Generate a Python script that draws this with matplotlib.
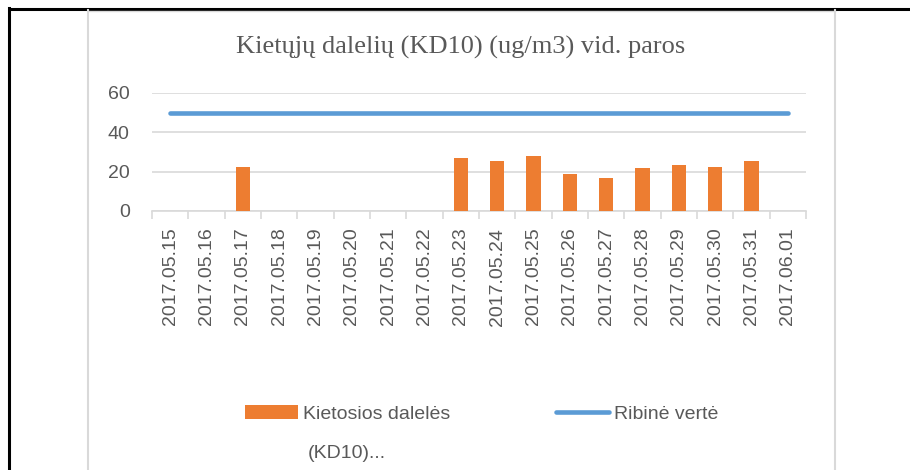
import numpy as np
import matplotlib
matplotlib.use("Agg")
import matplotlib.pyplot as plt
from matplotlib.lines import Line2D
from matplotlib.patches import Patch

# data
dates = ["2017.05.15", "2017.05.16", "2017.05.17", "2017.05.18", "2017.05.19",
         "2017.05.20", "2017.05.21", "2017.05.22", "2017.05.23", "2017.05.24",
         "2017.05.25", "2017.05.26", "2017.05.27", "2017.05.28", "2017.05.29",
         "2017.05.30", "2017.05.31", "2017.06.01"]
kd10 = [np.nan, np.nan, 22.4, np.nan, np.nan, np.nan, np.nan, np.nan, 27.0, 25.3,
        28.2, 18.7, 16.7, 21.9, 23.3, 22.3, 25.2, np.nan]
limit = [50] * len(dates)
yticks = [0, 20, 40, 60]

orange = "#ED7D31"
blue = "#5B9BD5"
grey_txt = "#595959"
grid_c = "#D9D9D9"

plt.rcParams["font.family"] = ["Liberation Sans", "DejaVu Sans"]

fig = plt.figure(figsize=(9.1, 4.7), dpi=100)
W, H = 910, 470

# page / chart frame
fig.add_artist(Line2D([8 / W, 1], [1 - 9 / H, 1 - 9 / H], color="black", lw=2.2,
                      solid_capstyle="butt"))
fig.add_artist(Line2D([8.7 / W, 8.7 / W], [0, 1 - 8 / H], color="black", lw=2.2))
fig.add_artist(Line2D([88 / W, 88 / W], [0, 1 - 10 / H], color=grid_c, lw=1.5))
fig.add_artist(Line2D([835 / W, 835 / W], [0, 1 - 10 / H], color=grid_c, lw=1.5))
fig.add_artist(Line2D([88 / W, 835 / W], [1 - 10.5 / H, 1 - 10.5 / H], color=grid_c, lw=1.0))

ax = fig.add_axes([152 / W, 1 - 211 / H, (806 - 152) / W, (211 - 93) / H])
x = np.arange(len(dates))

ax.bar(x, kd10, width=0.39, color=orange, zorder=3)
ax.plot(x, limit, color=blue, lw=3.3, solid_capstyle="round", zorder=4)

ax.set_xlim(-0.5, len(dates) - 0.5)
ax.set_ylim(0, 60)
ax.set_yticks(yticks)
ax.yaxis.grid(True, color=grid_c, lw=1.2, zorder=0)
ax.set_axisbelow(True)
for s in ["left", "right", "top"]:
    ax.spines[s].set_visible(False)
ax.spines["bottom"].set_color(grid_c)
ax.spines["bottom"].set_linewidth(1.2)

ax.set_xticks(x)
ax.set_xticklabels(dates, rotation=90, va="top", ha="center")
ax.set_xticks(np.arange(-0.5, len(dates)), minor=True)
ax.tick_params(axis="x", which="major", length=0, pad=12, labelsize=14, labelcolor=grey_txt)
ax.tick_params(axis="x", which="minor", length=6, width=1.2, color=grid_c)
ax.tick_params(axis="y", length=0, pad=16, labelsize=14, labelcolor=grey_txt)

fig.text(461 / W, 1 - 47 / H, "Kietųjų dalelių (KD10) (ug/m3) vid. paros",
         family=["Liberation Serif", "DejaVu Serif"], fontsize=19, color=grey_txt,
         ha="center", va="center")

handles = [Patch(facecolor=orange, edgecolor="none"),
           Line2D([], [], color=blue, lw=3.3, solid_capstyle="round")]
leg = fig.legend(handles, ["Kietosios dalelės", "Ribinė vertė"], ncol=2,
                 loc="center left", bbox_to_anchor=(245 / W, 1 - 414 / H),
                 frameon=False, fontsize=14, handlelength=2.75, handleheight=0.7,
                 handletextpad=0.25, columnspacing=5.4, borderaxespad=0, borderpad=0)
for t in leg.get_texts():
    t.set_color(grey_txt)
fig.text(308 / W, 1 - 453 / H, "(KD10)...", fontsize=14, color=grey_txt,
         ha="left", va="center")

fig.savefig("out.png", dpi=100)
